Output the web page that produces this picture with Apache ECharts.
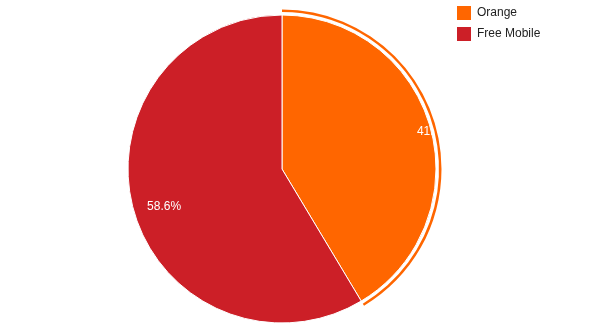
<!DOCTYPE html>
<html>
<head>
<meta charset="utf-8">
<script src="https://cdn.jsdelivr.net/npm/echarts@6/dist/echarts.min.js"></script>
<style>
html,body{margin:0;padding:0;background:#fff;}
#c{width:590px;height:332px;}
</style>
</head>
<body>
<div id="c"></div>
<script>
var categories = ['Orange', 'Free Mobile'];
var values = [41.4, 58.6];
var colors = ['#ff6600', '#cc1f27'];

var chart = echarts.init(document.getElementById('c'), null, {renderer: 'canvas'});
var font = 'Arial, "Liberation Sans", sans-serif';

var mainData = categories.map(function (n, i) {
  return {name: n, value: values[i], itemStyle: {color: colors[i]}};
});
var labelData = categories.map(function (n, i) {
  return {name: n, value: values[i], itemStyle: {color: 'rgba(0,0,0,0)'}};
});
var ringData = categories.map(function (n, i) {
  return {name: n, value: values[i], itemStyle: {color: i === 0 ? colors[0] : 'rgba(0,0,0,0)'}};
});

chart.setOption({
  animation: false,
  backgroundColor: '#ffffff',
  legend: {
    orient: 'vertical',
    left: 455,
    top: 4,
    padding: 0,
    itemWidth: 16,
    itemHeight: 16,
    itemGap: 3,
    icon: 'rect',
    data: categories,
    textStyle: {fontFamily: font, fontSize: 12, color: '#222222'},
    selectedMode: false
  },
  series: [
    {
      type: 'pie',
      center: [282, 169],
      radius: [0, 154],
      startAngle: 90,
      clockwise: true,
      silent: true,
      z: 2,
      label: {show: false},
      labelLine: {show: false},
      itemStyle: {borderColor: '#ffffff', borderWidth: 1},
      emphasis: {disabled: true},
      data: mainData
    },
    {
      type: 'pie',
      center: [282, 169],
      radius: [0, 274],
      startAngle: 90,
      clockwise: true,
      silent: true,
      z: 2,
      percentPrecision: 1,
      label: {
        show: true,
        position: 'inside',
        formatter: '{d}%',
        color: '#ffffff',
        fontFamily: font,
        fontSize: 12
      },
      labelLayout: function (p) {
        return {dx: p.labelRect.width / 2};
      },
      labelLine: {show: false},
      itemStyle: {borderWidth: 0},
      emphasis: {disabled: true},
      data: labelData
    },
    {
      type: 'pie',
      center: [282, 169],
      radius: [157, 159.5],
      startAngle: 90,
      clockwise: true,
      silent: true,
      z: 5,
      label: {show: false},
      labelLine: {show: false},
      itemStyle: {borderWidth: 0},
      emphasis: {disabled: true},
      data: ringData
    }
  ]
});
</script>
</body>
</html>
